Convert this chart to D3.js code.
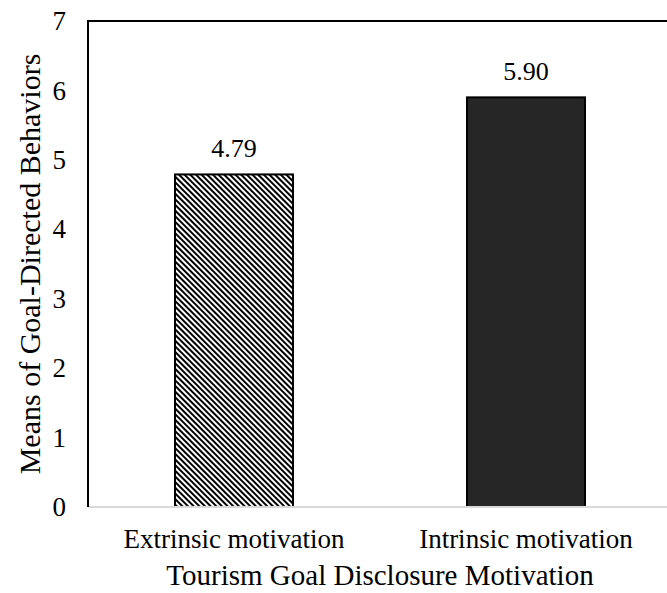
<!DOCTYPE html>
<html>
<head>
<meta charset="utf-8">
<script src="https://cdn.jsdelivr.net/npm/d3@7"></script>
<style>
  html, body { margin: 0; padding: 0; background: #fff; }
  svg { display: block; }
</style>
</head>
<body>
<svg id="chart" width="667" height="593"></svg>
<script>
// Mean goal-directed behaviour score by disclosure motivation
const categories = ["Extrinsic motivation", "Intrinsic motivation"];
const means = [4.79, 5.90];
const valueLabels = ["4.79", "5.90"];
const yTicks = [0, 1, 2, 3, 4, 5, 6, 7];
const yTitle = "Means of Goal-Directed Behaviors";
const xTitle = "Tourism Goal Disclosure Motivation";

const FONT = "'Liberation Serif', 'Times New Roman', serif";
const svg = d3.select("#chart").attr("font-family", FONT);
const plot = { left: 88, right: 672, top: 21, bottom: 507 };

// fine diagonal hatch (top-left to bottom-right) for the first bar
const defs = svg.append("defs");
const pat = defs.append("pattern")
  .attr("id", "hatch")
  .attr("patternUnits", "userSpaceOnUse")
  .attr("width", 4).attr("height", 4)
  .attr("patternTransform", "rotate(45)");
pat.append("rect").attr("width", 4).attr("height", 4).attr("fill", "#fff");
pat.append("rect").attr("x", 0).attr("y", 0).attr("width", 4).attr("height", 2).attr("fill", "#000");

const x = d3.scaleBand()
  .domain(categories)
  .range([plot.left, plot.right])
  .paddingInner(0.596)
  .paddingOuter(0.298);

const y = d3.scaleLinear().domain([0, 7]).range([plot.bottom, plot.top]);

// bars
svg.selectAll("rect.bar")
  .data(means)
  .join("rect")
  .attr("class", "bar")
  .attr("x", (d, i) => x(categories[i]))
  .attr("width", x.bandwidth())
  .attr("y", d => y(d))
  .attr("height", d => y(0) - y(d))
  .attr("fill", (d, i) => i === 0 ? "url(#hatch)" : "#262626")
  .attr("stroke", "#000")
  .attr("stroke-width", 2);

// value labels
svg.selectAll("text.val")
  .data(means)
  .join("text")
  .attr("class", "val")
  .attr("x", (d, i) => x(categories[i]) + x.bandwidth() / 2)
  .attr("y", d => y(d) - 17)
  .attr("text-anchor", "middle")
  .attr("font-size", 26)
  .attr("fill", "#000")
  .text((d, i) => valueLabels[i]);

// y axis
const yAxis = svg.append("g")
  .attr("transform", `translate(${plot.left},0)`)
  .call(d3.axisLeft(y).tickValues(yTicks).tickFormat(d3.format("d")).tickSize(0).tickPadding(22))
  .attr("font-family", FONT)
  .attr("font-size", 27);
yAxis.select(".domain").remove();
yAxis.selectAll("text").attr("fill", "#000");

// x axis labels
const xAxis = svg.append("g")
  .attr("transform", `translate(0,${plot.bottom})`)
  .call(d3.axisBottom(x).tickSize(0).tickPadding(22))
  .attr("font-family", FONT)
  .attr("font-size", 27);
xAxis.select(".domain").remove();
xAxis.selectAll("text").attr("fill", "#000");

// plot frame: gray baseline, black left and top edges
svg.append("line")
  .attr("x1", plot.left).attr("x2", plot.right)
  .attr("y1", plot.bottom).attr("y2", plot.bottom)
  .attr("stroke", "#d9d9d9").attr("stroke-width", 2);
svg.append("path")
  .attr("d", `M${plot.left},${plot.bottom}V${plot.top}H${plot.right}`)
  .attr("fill", "none").attr("stroke", "#000").attr("stroke-width", 2);

// axis titles
svg.append("text")
  .attr("x", 380)
  .attr("y", 585)
  .attr("text-anchor", "middle")
  .attr("font-size", 29)
  .attr("fill", "#000")
  .text(xTitle);

svg.append("text")
  .attr("transform", `translate(40,${(plot.top + plot.bottom) / 2}) rotate(-90)`)
  .attr("text-anchor", "middle")
  .attr("font-size", 30)
  .attr("fill", "#000")
  .text(yTitle);
</script>
</body>
</html>
